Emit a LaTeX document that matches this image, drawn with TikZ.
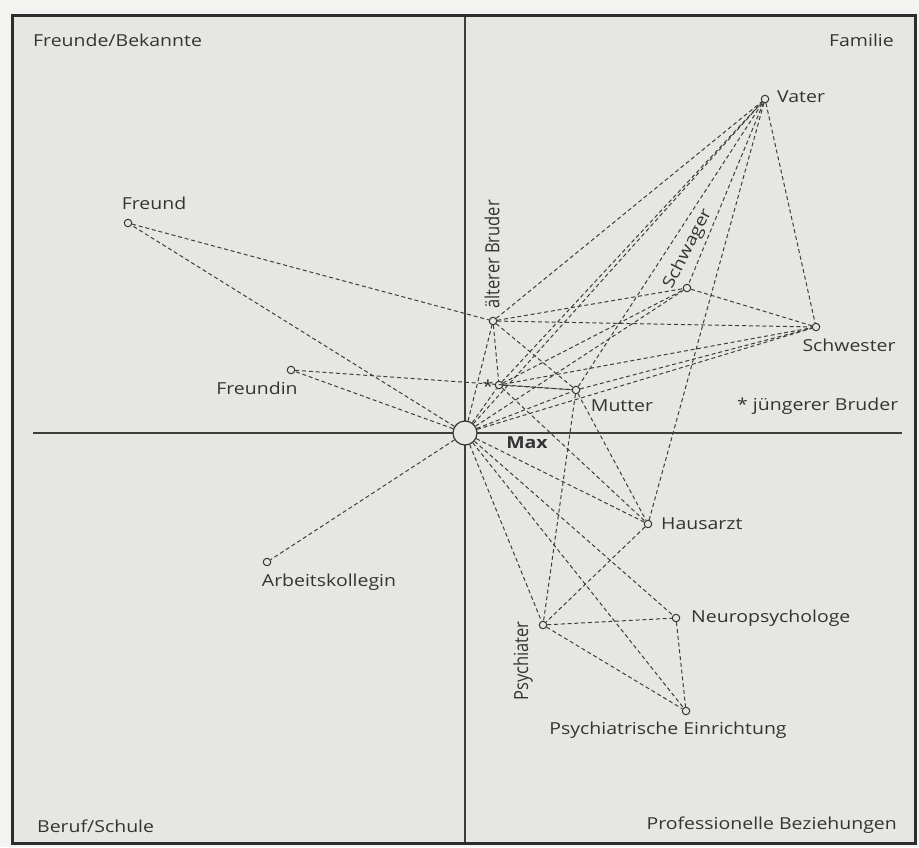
\documentclass[tikz,border=0pt]{standalone}
\usepackage{graphicx}
\usepackage{fontspec}
\setmainfont{Open Sans}[FakeStretch=1.18]
\newfontfamily\vfont{Open Sans}
\definecolor{bg}{RGB}{230,230,227}
\definecolor{page}{RGB}{243,243,241}
\definecolor{ink}{RGB}{52,52,52}
\definecolor{lineg}{RGB}{62,62,62}
\definecolor{framec}{RGB}{45,45,45}
\newcommand{\tallglyphs}[1]{\scalebox{1}[1.18]{#1}}
\begin{document}
\begin{tikzpicture}[x=1pt,y=-1pt,
  person/.style={circle,draw=ink,fill=bg,line width=1pt,minimum size=7.5pt,inner sep=0pt},
  ego/.style={circle,draw=ink,fill=bg,line width=1.2pt,minimum size=24pt,inner sep=0pt},
  tie/.style={draw=lineg,line width=1pt,dash pattern=on 4pt off 2.8pt},
  lbl/.style={text=ink,font=\fontsize{16.5}{19}\selectfont,inner sep=0pt},
  vlbl/.style={text=ink,font=\vfont\fontsize{16.5}{19}\selectfont,inner sep=0pt},
  axisline/.style={draw=lineg,line width=1.3pt}]
\useasboundingbox (0,0) rectangle (919,847);
\fill[page] (0,0) rectangle (919,847);
\fill[bg] (12.5,15.5) rectangle (915,843.5);
% axes
\coordinate (axL) at (33,433);
\coordinate (axR) at (902,433);
\coordinate (axT) at (465,15.5);
\coordinate (axB) at (465,843.5);
\draw[axisline] (axL) -- (axR);
\draw[axisline] (axT) -- (axB);
% nodes
\node[ego] (M) at (465,433) {};
\node[person] (Fd) at (128,223) {};
\node[person] (Fi) at (291,370) {};
\node[person] (A) at (267,562) {};
\node[person] (aB) at (493,321) {};
\node[person] (jB) at (499,385) {};
\node[person] (Mu) at (576,390) {};
\node[person] (V) at (765,99) {};
\node[person] (Sg) at (687,288) {};
\node[person] (Sw) at (816,327) {};
\node[person] (H) at (648,524) {};
\node[person] (N) at (676,618) {};
\node[person] (P) at (543,625) {};
\node[person] (PE) at (686,711) {};
% ties
\foreach \t in {Fd,Fi,A,aB,jB,Mu,V,Sg,Sw,H,N,P,PE} \draw[tie] (M) -- (\t);
\draw[tie] (Fd) -- (aB);
\draw[tie] (Fi) -- (Mu);
\foreach \t in {jB,Mu,V,Sg,Sw} \draw[tie] (aB) -- (\t);
\foreach \t in {Mu,V,Sw,H,Sg} \draw[tie] (jB) -- (\t);
\foreach \t in {V,Sw,H,P} \draw[tie] (Mu) -- (\t);
\foreach \t in {Sg,Sw,H} \draw[tie] (V) -- (\t);
\draw[tie] (Sg) -- (Sw);
\draw[tie] (H) -- (P);
\draw[tie] (P) -- (N);
\draw[tie] (P) -- (PE);
\draw[tie] (N) -- (PE);
% labels
\node[lbl] (lFd) at (154,203) {Freund};
\node[lbl] (lFi) at (257,388) {Freundin};
\node[lbl] (lA) at (329,582) {Arbeitskollegin};
\node[lbl] (lMu) at (622,406) {Mutter};
\node[lbl,anchor=west] (lV) at (777,97) {Vater};
\node[lbl] (lSw) at (849,345) {Schwester};
\node[lbl,anchor=west] (lH) at (661,524) {Hausarzt};
\node[lbl,anchor=west] (lN) at (691,618) {Neuropsychologe};
\node[lbl] (lPE) at (668,730) {Psychiatrische Einrichtung};
\node[vlbl,rotate=90] (lP) at (523,661) {\tallglyphs{Psychiater}};
\node[vlbl,rotate=90,anchor=west] (laB) at (492,309) {\tallglyphs{älterer Bruder}};
\node[lbl,rotate=63] (lSg) at (688,249) {Schwager};
\node[lbl] (ast) at (488,386) {*};
\node[lbl,anchor=west] (ljB) at (737,406) {* jüngerer Bruder};
\node[lbl,font=\fontsize{16.5}{19}\selectfont\bfseries] (lM) at (527,443) {Max};
\node[lbl,anchor=west] (q1) at (33,40) {Freunde/Bekannte};
\node[lbl,anchor=east] (q2) at (894,40) {Familie};
\node[lbl,anchor=west] (q3) at (37,826) {Beruf/Schule};
\node[lbl,anchor=east] (q4) at (897,825) {Professionelle Beziehungen};
% frame
\draw[framec,line width=3pt] (12.5,15.5) rectangle (915,843.5);
\end{tikzpicture}
\end{document}
